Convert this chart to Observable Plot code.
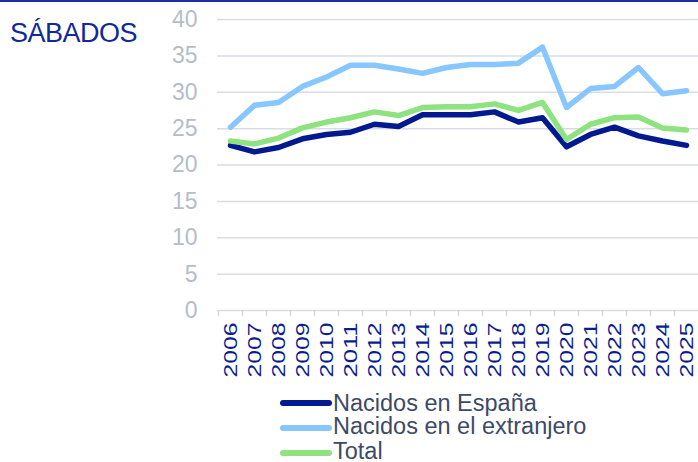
<!DOCTYPE html>
<html><head><meta charset="utf-8">
<script src="https://cdn.jsdelivr.net/npm/d3@7"></script>
<script src="https://cdn.jsdelivr.net/npm/@observablehq/plot@0.6"></script>
<style>
body{margin:0;width:698px;height:462px;overflow:hidden;background:#fff;font-family:"Liberation Sans",Arial,sans-serif;position:relative}
#topline{position:absolute;left:0;top:0;width:698px;height:2px;background:#1b2f9e}
#title{position:absolute;left:10px;top:20.4px;font-size:27px;line-height:27px;letter-spacing:-0.5px;color:#12299a;white-space:nowrap}
#chart{position:absolute;left:0;top:0}
#chart svg [aria-label="y-axis tick label"]{fill:#b5bdc8}
#chart svg [aria-label="x-axis tick label"]{fill:#0d1f8f}
.sw{position:absolute;left:280px;width:52px;height:6px;border-radius:3px}
.lt{position:absolute;left:333px;font-size:23.5px;line-height:22px;color:#3d4a66;white-space:nowrap}
</style>
</head><body>
<div id="chart"></div>
<div id="topline"></div>
<div id="title">SÁBADOS</div>
<div id="legend"></div>
<script>
const years = ["2006","2007","2008","2009","2010","2011","2012","2013","2014","2015","2016","2017","2018","2019","2020","2021","2022","2023","2024","2025"];
const espana = [22.7,21.8,22.4,23.6,24.2,24.5,25.6,25.3,26.9,26.9,26.9,27.3,25.9,26.5,22.5,24.2,25.2,24.0,23.3,22.7];
const extranjero = [25.2,28.2,28.6,30.8,32.1,33.7,33.7,33.2,32.6,33.4,33.8,33.8,34.0,36.2,27.9,30.5,30.8,33.4,29.8,30.2];
const total = [23.3,22.9,23.7,25.1,25.9,26.5,27.3,26.8,27.9,28.0,28.0,28.4,27.5,28.6,23.5,25.6,26.5,26.6,25.1,24.8];
const seriesNames = ["Nacidos en España","Nacidos en el extranjero","Total"];
const seriesColors = ["#03198f","#87c6ff","#8ee27f"];
const yTicks = [0,5,10,15,20,25,30,35,40];

const seriesValues = [espana, extranjero, total];
const data = [];
seriesNames.forEach((s, i) => years.forEach((y, j) => data.push({series: s, year: y, value: seriesValues[i][j]})));

const W = 698, ML = 217, MR = 0;
const step = (W - ML - MR) / years.length;

const chart = Plot.plot({
  width: W, height: 390,
  marginLeft: ML, marginRight: MR, marginTop: 19, marginBottom: 80,
  style: {fontFamily: '"Liberation Sans", Arial, sans-serif', background: "transparent", overflow: "visible"},
  x: {type: "point", domain: years, padding: 0.5, align: 0.5, label: null},
  y: {domain: [0, 40], label: null},
  color: {domain: seriesNames, range: seriesColors},
  marks: [
    Plot.ruleY(yTicks, {y: d => d, stroke: "#d9dde3", strokeWidth: 1.5}),
    Plot.ruleX(years, {x: d => d, dx: -step / 2, y1: 0, y2: -0.85, stroke: "#d0d5dc", strokeWidth: 1.2}),
    Plot.lineY(data, {x: "year", y: "value", z: "series", stroke: "series", strokeWidth: 5.5, strokeLinejoin: "round", strokeLinecap: "round"}),
    Plot.axisY({ticks: yTicks, tickSize: 0, tickPadding: 20, fontSize: 23, label: null}),
    Plot.axisX({tickSize: 0, tickRotate: -90, tickPadding: 12, fontSize: 19, label: null})
  ]
});
document.getElementById("chart").appendChild(chart);
d3.select(chart).selectAll('[aria-label="x-axis tick label"] text')
  .attr("textLength", 55).attr("lengthAdjust", "spacingAndGlyphs");

const swCenters = [403, 428, 453];
const textTops = [391.6, 414.6, 439.6];
const legend = document.getElementById("legend");
seriesNames.forEach((s, i) => {
  const sw = document.createElement("div");
  sw.className = "sw";
  sw.style.top = (swCenters[i] - 3) + "px";
  sw.style.background = seriesColors[i];
  legend.appendChild(sw);
  const t = document.createElement("div");
  t.className = "lt";
  t.style.top = textTops[i] + "px";
  t.textContent = s;
  legend.appendChild(t);
});
</script>
</body></html>
